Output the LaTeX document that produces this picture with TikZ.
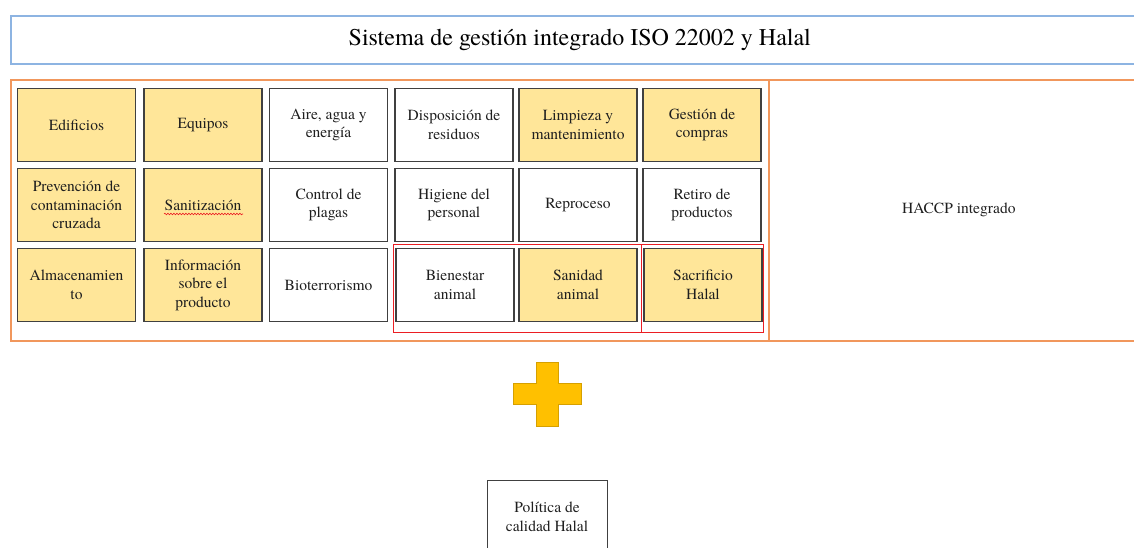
\documentclass[tikz,border=0pt]{standalone}
\usepackage{fontspec}
\setmainfont{TeX Gyre Termes}
\usetikzlibrary{decorations.pathmorphing}
\definecolor{cellyellow}{RGB}{255,230,153}
\definecolor{cellborder}{RGB}{64,64,64}
\definecolor{frameorange}{RGB}{241,151,92}
\definecolor{titleblue}{RGB}{141,180,226}
\definecolor{plusfill}{RGB}{255,192,0}
\definecolor{plusborder}{RGB}{214,160,0}
\definecolor{markred}{RGB}{235,30,35}
\tikzset{
  cellbox/.style={draw=cellborder, line width=1.3pt, fill=white, minimum width=118pt, minimum height=73pt,
    inner sep=0pt, align=center, font=\fontsize{15.5}{18.5}\selectfont, text=black!88},
  cellyel/.style={cellbox, fill=cellyellow},
  framebox/.style={draw=frameorange, line width=1.6pt},
  redbox/.style={draw=markred, line width=1pt},
}
\begin{document}
\begin{tikzpicture}[x=1pt,y=-1pt]
\useasboundingbox (0,0) rectangle (1134,548);
\clip (0,0) rectangle (1134,548);
% title
\node[draw=titleblue, line width=1.6pt, minimum width=1138pt, minimum height=48pt, inner sep=0pt, anchor=north west,
  font=\fontsize{24}{28}\selectfont] (title) at (10,15) {Sistema de gestión integrado ISO 22002 y Halal};
% orange frames
\node[framebox, minimum width=758pt, minimum height=261pt, anchor=north west, inner sep=0pt] (left) at (10,79) {};
\node[framebox, minimum width=380pt, minimum height=261pt, anchor=north west, inner sep=0pt,
  font=\fontsize{15.5}{18.5}\selectfont, text=black!88] (haccp) at (768,79) {HACCP integrado};
% row 1
\node[cellyel] (c11) at (76.5,125) {Edificios};
\node[cellyel] (c12) at (203,125) {Equipos};
\node[cellbox] (c13) at (328.5,125) {Aire, agua y\\energía};
\node[cellbox] (c14) at (454,125) {Disposición de\\residuos};
\node[cellyel] (c15) at (578,125) {Limpieza y\\mantenimiento};
\node[cellyel] (c16) at (702,125) {Gestión de\\compras};
% row 2
\node[cellyel] (c21) at (76.5,205) {Prevención de\\contaminación\\cruzada};
\node[cellyel] (c22) at (203,205) {Sanitización};
\node[cellbox] (c23) at (328.5,205) {Control de\\plagas};
\node[cellbox] (c24) at (454,205) {Higiene del\\personal};
\node[cellbox] (c25) at (578,205) {Reproceso};
\node[cellbox] (c26) at (702,205) {Retiro de\\productos};
% row 3
\node[cellyel] (c31) at (76.5,285) {Almacenamien\\to};
\node[cellyel] (c32) at (203,285) {Información\\sobre el\\producto};
\node[cellbox] (c33) at (328.5,285) {Bioterrorismo};
\node[cellbox] (c34) at (455,285) {Bienestar\\animal};
\node[cellyel] (c35) at (578,285) {Sanidad\\animal};
\node[cellyel] (c36) at (703,285) {Sacrificio\\Halal};
% spell-check squiggle under Sanitizacion
\draw[markred, line width=0.6pt, decorate, decoration={snake, amplitude=0.8pt, segment length=3pt}]
  (164,214) -- (243,214);
% red highlight boxes
\draw[redbox] (393,244) rectangle (641,332);
\draw[redbox] (641,244) rectangle (763,332);
% plus sign
\draw[fill=plusfill, draw=plusborder, line width=0.8pt]
  (536,362) -- (558,362) -- (558,383) -- (581,383) -- (581,404) -- (558,404) -- (558,426)
  -- (536,426) -- (536,404) -- (513,404) -- (513,383) -- (536,383) -- cycle;
% bottom box
\node[draw=cellborder, line width=1.2pt, minimum width=120pt, minimum height=90pt, anchor=north west, inner sep=0pt] (policy) at (487,480) {};
\node[align=center, font=\fontsize{15.5}{18.5}\selectfont, text=black!88] (policytext) at (547,517) {Política de\\calidad Halal};
\end{tikzpicture}
\end{document}
